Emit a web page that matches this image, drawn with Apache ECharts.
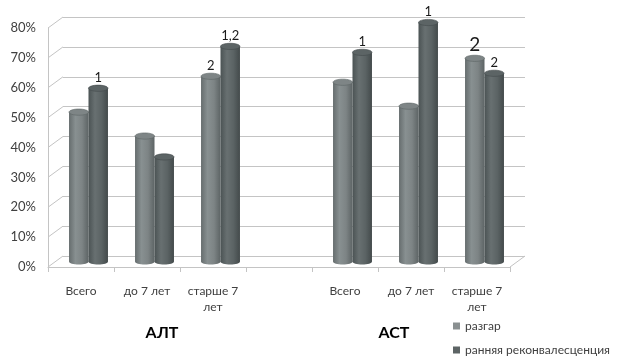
<!DOCTYPE html>
<html><head><meta charset="utf-8">
<script src="https://cdn.jsdelivr.net/npm/echarts@6/dist/echarts.min.js"></script>
<style>html,body{margin:0;padding:0;background:#fff}#c{width:617px;height:356px}</style>
</head><body><div id="c"></div>
<script>
// ---- data ----
const categories = ['Всего', 'до 7 лет', 'старше 7\nлет', '', 'Всего', 'до 7 лет', 'старше 7\nлет'];
const groupLabels = ['АЛТ', 'АСТ'];
const seriesNames = ['разгар', 'ранняя реконвалесценция'];
const razgar = [50, 42, 62, null, 60, 52, 68];
const rannyaya = [58, 35, 72, null, 70, 80, 63];
const razgarNotes = ['', '', '2', '', '', '', '2'];
const rannyayaNotes = ['1', '', '1,2', '', '1', '1', '2'];
const yTicks = [0, 10, 20, 30, 40, 50, 60, 70, 80];

// ---- style ----
const FONT = 'Lato, "Open Sans", sans-serif';
const DX = 15, DY = -11;          // 3D depth offset (front -> back wall)
const GRID_COLOR = '#c4c4c4';
const TEXT_COLOR = '#404040';
const bigNote = { series: 0, index: 6 };

const chart = echarts.init(document.getElementById('c'), null, { renderer: 'canvas' });

function grad(stops) {
  return new echarts.graphic.LinearGradient(0, 0, 1, 0, stops.map((c, k) => ({ offset: k / (stops.length - 1), color: c })));
}

function cylinder(seriesIdx, side, notes, stops, topColor) {
  return function (params, api) {
    const i = api.value(0), v = api.value(1);
    if (v == null || isNaN(v)) return;
    const catW = api.size([1, 0])[0];
    const w = catW * 0.295;
    const top = api.coord([i, v]);
    const base = api.coord([i, 0]);
    const cx = top[0] + side * w / 2 + DX / 2;
    const ty = top[1] + DY / 2;
    const by = base[1] + DY / 2;
    const ry = w * 0.16;
    const children = [
      { type: 'ellipse', shape: { cx: cx, cy: by, rx: w / 2, ry: ry }, style: { fill: grad(stops) } },
      { type: 'rect', shape: { x: cx - w / 2, y: ty, width: w, height: by - ty }, style: { fill: grad(stops) } },
      { type: 'ellipse', shape: { cx: cx, cy: ty, rx: w / 2, ry: ry }, style: { fill: topColor, stroke: stops[stops.length - 1], lineWidth: 0.6 } }
    ];
    const note = notes[i];
    if (note) {
      const big = seriesIdx === bigNote.series && i === bigNote.index;
      children.push({
        type: 'text',
        style: {
          text: note, x: cx, y: ty - ry - 1, align: 'center', verticalAlign: 'bottom',
          fill: '#1a1a1a', font: (big ? '19px ' : '13px ') + FONT
        }
      });
    }
    return { type: 'group', children: children };
  };
}

const legendBase = {
  orient: 'vertical', left: 453, icon: 'rect',
  itemWidth: 7, itemHeight: 7, padding: 0,
  textStyle: { color: TEXT_COLOR, fontSize: 12, fontFamily: FONT }
};

chart.setOption({
  animation: false,
  backgroundColor: '#fff',
  textStyle: { fontFamily: FONT },
  grid: [
    { left: 48, right: 107, top: 28, bottom: 89 },   // front plane
    { left: 63, right: 92, top: 17, bottom: 100 }    // back wall
  ],
  xAxis: [
    {
      type: 'category', gridIndex: 0, data: categories,
      axisLine: { show: true, lineStyle: { color: GRID_COLOR } },
      axisTick: { show: true, length: 5, interval: 0, lineStyle: { color: GRID_COLOR } },
      axisLabel: { interval: 0, color: TEXT_COLOR, fontSize: 12, margin: 16, lineHeight: 16, fontFamily: FONT },
      splitLine: { show: false }
    },
    { type: 'category', gridIndex: 1, data: categories, show: false }
  ],
  yAxis: [
    {
      type: 'value', gridIndex: 0, min: 0, max: 80, interval: 10,
      axisLine: { show: true, lineStyle: { color: GRID_COLOR } },
      axisTick: { show: false },
      axisLabel: { formatter: '{value}%', color: TEXT_COLOR, fontSize: 13, margin: 12, fontFamily: FONT },
      splitLine: { show: false }
    },
    {
      type: 'value', gridIndex: 1, min: 0, max: 80, interval: 10,
      axisLine: { show: false }, axisTick: { show: false }, axisLabel: { show: false },
      splitLine: { show: true, lineStyle: { color: GRID_COLOR, width: 1 } }
    }
  ],
  legend: [
    Object.assign({ top: 320, data: [seriesNames[0]] }, legendBase),
    Object.assign({ top: 344, data: [seriesNames[1]] }, legendBase)
  ],
  graphic: [
    { type: 'text', x: 162, y: 333, style: { text: groupLabels[0], align: 'center', verticalAlign: 'middle', font: 'bold 16px ' + FONT, fill: '#000' } },
    { type: 'text', x: 394, y: 333, style: { text: groupLabels[1], align: 'center', verticalAlign: 'middle', font: 'bold 16px ' + FONT, fill: '#000' } }
  ],
  series: [
    {
      type: 'custom', name: 'wall', xAxisIndex: 0, yAxisIndex: 0, silent: true, z: 1,
      data: yTicks.map(t => [0, t]),
      renderItem: function (params, api) {
        const cs = params.coordSys;
        const y = api.coord([0, api.value(1)])[1];
        const lines = [{ type: 'line', shape: { x1: cs.x, y1: y, x2: cs.x + DX, y2: y + DY }, style: { stroke: GRID_COLOR, lineWidth: 1 } }];
        if (api.value(1) === 0) {
          lines.push({ type: 'line', shape: { x1: cs.x + cs.width, y1: y, x2: cs.x + cs.width + DX, y2: y + DY }, style: { stroke: GRID_COLOR, lineWidth: 1 } });
        }
        return { type: 'group', children: lines };
      }
    },
    {
      type: 'custom', name: seriesNames[0], xAxisIndex: 0, yAxisIndex: 0, z: 3,
      itemStyle: { color: '#8a9091' },
      data: razgar.map((v, i) => [i, v]),
      renderItem: cylinder(0, -1, razgarNotes, ['#666d6e', '#889091', '#7d8485', '#5d6465'], '#7e8586')
    },
    {
      type: 'custom', name: seriesNames[1], xAxisIndex: 0, yAxisIndex: 0, z: 4,
      itemStyle: { color: '#5d6465' },
      data: rannyaya.map((v, i) => [i, v]),
      renderItem: cylinder(1, 1, rannyayaNotes, ['#4b5354', '#687071', '#5b6364', '#434a4b'], '#5c6465')
    }
  ]
});
</script>
</body></html>
